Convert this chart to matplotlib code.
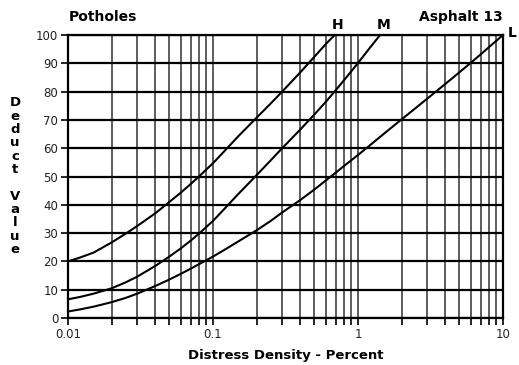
import matplotlib
matplotlib.use("Agg")
import matplotlib.pyplot as plt
from matplotlib.ticker import FixedLocator, NullFormatter, FixedFormatter, LogLocator

# deduct value curves, one per severity level (H, M, L)
high_density = [0.01, 0.012, 0.015, 0.02, 0.025, 0.03, 0.04, 0.05, 0.06, 0.07, 0.08, 0.1,
                0.12, 0.15, 0.2, 0.25, 0.3, 0.4, 0.5, 0.6, 0.69]
high_deduct = [20, 21.3, 23.1, 26.7, 29.8, 32.5, 37, 41, 44.3, 47.3, 50, 54.7,
               59, 64.3, 70.8, 75.8, 80, 86.8, 92.3, 96.8, 100]

med_density = [0.01, 0.012, 0.015, 0.02, 0.025, 0.03, 0.04, 0.05, 0.06, 0.07, 0.08, 0.1,
               0.12, 0.15, 0.2, 0.25, 0.3, 0.4, 0.5, 0.6, 0.7, 0.8, 1.0, 1.2, 1.42]
med_deduct = [6.6, 7.4, 8.6, 10.5, 12.6, 14.6, 18.4, 21.7, 24.6, 27.3, 29.8, 34.3,
              38.6, 43.9, 50.5, 55.7, 60, 66.6, 71.9, 76.4, 80.4, 84, 90.1, 95.3, 100]

low_density = [0.01, 0.012, 0.015, 0.02, 0.025, 0.03, 0.04, 0.05, 0.06, 0.07, 0.08, 0.1,
               0.12, 0.15, 0.2, 0.25, 0.3, 0.4, 0.5, 0.6, 0.7, 0.8, 1.0, 1.2, 1.5,
               2, 2.5, 3, 4, 5, 6, 7, 8, 10]
low_deduct = [2.3, 3.0, 4.0, 5.6, 7.1, 8.6, 11.3, 13.6, 15.6, 17.4, 19, 21.7,
              24.1, 27.1, 31, 34.3, 37.3, 41.7, 45.4, 48.6, 51.3, 53.7, 57.6, 60.9, 65,
              70.2, 74.2, 77.5, 82.7, 86.8, 90.2, 93.1, 95.7, 100]

x_ticks = [0.01, 0.1, 1, 10]
x_tick_labels = ["0.01", "0.1", "1", "10"]
y_ticks = list(range(0, 101, 10))

W, H = 519, 365
fig = plt.figure(figsize=(W / 100, H / 100), dpi=100)
ax = fig.add_axes([68 / W, 47 / H, 435 / W, 283 / H])

ax.set_xscale("log")
ax.set_xlim(0.01, 10)
ax.set_ylim(0, 100)
ax.xaxis.set_major_locator(FixedLocator(x_ticks))
ax.xaxis.set_major_formatter(FixedFormatter(x_tick_labels))
ax.xaxis.set_minor_locator(LogLocator(base=10, subs=range(2, 10)))
ax.xaxis.set_minor_formatter(NullFormatter())
ax.set_yticks(y_ticks)

ax.grid(which="both", axis="x", color="#505050", lw=1.3)
ax.grid(which="major", axis="y", color="black", lw=1.6)
ax.tick_params(axis="both", which="both", direction="out", length=5, width=1.2,
               color="black", labelsize=8.5, labelcolor="#222222", pad=2)
for s in ax.spines.values():
    s.set_linewidth(1.6)
    s.set_color("black")

for xs, ys in [(high_density, high_deduct), (med_density, med_deduct), (low_density, low_deduct)]:
    ax.plot(xs, ys, color="black", lw=1.5, clip_on=False, solid_joinstyle="round")

def px(x, y, s, **kw):
    fig.text(x / W, 1 - y / H, s, fontweight="bold", **kw)

px(69, 17, "Potholes", fontsize=10, ha="left", va="center")
px(503, 17, "Asphalt 13", fontsize=10, ha="right", va="center")
px(338, 25, "H", fontsize=10, ha="center", va="center")
px(384, 25, "M", fontsize=10, ha="center", va="center")
px(512, 33, "L", fontsize=10, ha="center", va="center")
px(286, 355, "Distress Density - Percent", fontsize=9.5, ha="center", va="center")

for i, ch in enumerate("Deduct Value"):
    if ch != " ":
        px(15, 103 + 13.3 * i, ch, fontsize=9.5, ha="center", va="center")

fig.savefig("out.png", dpi=100)
